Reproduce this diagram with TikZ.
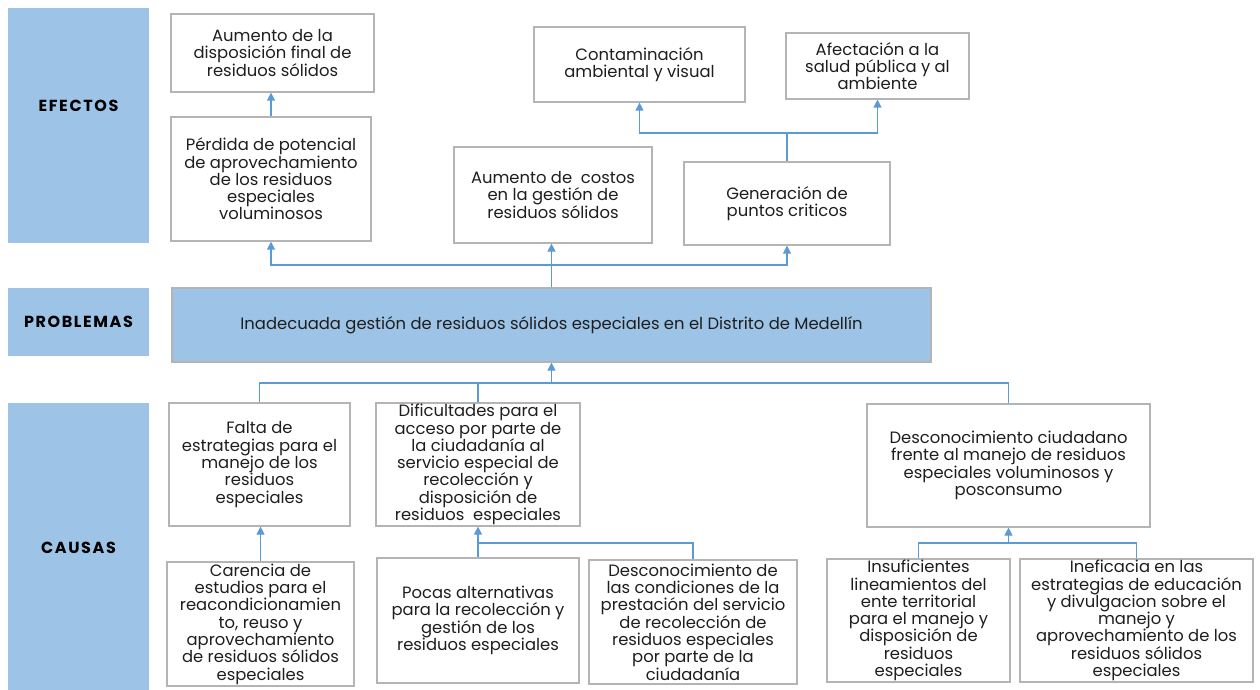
\documentclass[tikz,border=0pt]{standalone}
\usepackage{fontspec}
\setmainfont{Poppins}
\usepackage{tikz}
\usetikzlibrary{positioning}
\usetikzlibrary{arrows.meta}

\definecolor{rowblue}{HTML}{9DC3E6}
\definecolor{linkblue}{HTML}{5B9BD5}
\definecolor{framegray}{HTML}{B4B4B4}
\definecolor{inkgray}{HTML}{1E1E1E}

\begin{document}
\begin{tikzpicture}[x=1pt, y=-1pt,
    cell/.style={draw=framegray, line width=1.2pt, fill=white, align=center, inner sep=0pt, text=inkgray, font=\fontsize{16.4}{17.3}\selectfont},
    rowlabel/.style={fill=rowblue, inner sep=0pt, text=black, font=\fontsize{16}{17}\selectfont\bfseries\addfontfeature{LetterSpace=10}},
    link/.style={draw=linkblue, line width=1.2pt},
    up/.style={link, -{Triangle[width=8pt,length=8pt]}}]

    \useasboundingbox (0,0) rectangle (1260,690);

    % row labels
    \node [rowlabel, minimum width=141pt, minimum height=235pt, label={[rowlabel, fill=none, yshift=20pt]center:EFECTOS}] (efectos) at (78.5,125.5) {};
    \node [rowlabel, minimum width=141pt, minimum height=68pt] (problemas) at (78.5,322) {PROBLEMAS};
    \node [rowlabel, minimum width=141pt, minimum height=289pt] (causas) at (78.5,547.5) {CAUSAS};

    % efectos
    \node [cell, minimum width=203pt, minimum height=78pt] (aumdisp) at (272.5,53) {Aumento de la\\disposición final de\\residuos sólidos};
    \node [cell, minimum width=200pt, minimum height=124pt] (perdida) at (271,179) {Pérdida de potencial\\de aprovechamiento\\de los residuos\\especiales\\voluminosos};
    \node [cell, minimum width=211pt, minimum height=75pt] (contam) at (639.5,64.5) {Contaminación\\ambiental y visual};
    \node [cell, minimum width=183pt, minimum height=66pt] (afecta) at (877.5,66) {Afectación a la\\salud pública y al\\ambiente};
    \node [cell, minimum width=198pt, minimum height=96pt] (costos) at (553,195) {Aumento de \ costos\\en la gestión de\\residuos sólidos};
    \node [cell, minimum width=206pt, minimum height=83pt] (puntos) at (787,203.5) {Generación de\\puntos criticos};

    % problema
    \node [cell, fill=rowblue, minimum width=759pt, minimum height=74pt] (problema) at (551.5,325) {Inadecuada gestión de residuos sólidos especiales en el Distrito de Medellín};

    % causas
    \node [cell, minimum width=181pt, minimum height=123pt] (falta) at (259.5,464.5) {Falta de\\estrategias para el\\manejo de los\\residuos\\especiales};
    \node [cell, minimum width=204pt, minimum height=123pt] (dificul) at (478,464.5) {Dificultades para el\\acceso por parte de\\la ciudadanía al\\servicio especial de\\recolección y\\disposición de\\residuos \ especiales};
    \node [cell, minimum width=283pt, minimum height=123pt] (descciu) at (1008.5,465.5) {Desconocimiento ciudadano\\frente al manejo de residuos\\especiales voluminosos y\\posconsumo};
    \node [cell, minimum width=187pt, minimum height=124pt] (carencia) at (260.5,624) {Carencia de\\estudios para el\\reacondicionamien\\to, reuso y\\aprovechamiento\\de residuos sólidos\\especiales};
    \node [cell, minimum width=202pt, minimum height=125pt] (pocas) at (478,620.5) {Pocas alternativas\\para la recolección y\\gestión de los\\residuos especiales};
    \node [cell, minimum width=208pt, minimum height=124pt] (desccond) at (693,622) {Desconocimiento de\\las condiciones de la\\prestación del servicio\\de recolección de\\residuos especiales\\por parte de la\\ciudadanía};
    \node [cell, minimum width=183pt, minimum height=123pt] (insuf) at (918.5,620.5) {Insuficientes\\lineamientos del\\ente territorial\\para el manejo y\\disposición de\\residuos\\especiales};
    \node [cell, minimum width=233pt, minimum height=123pt] (inefic) at (1136.5,620.5) {Ineficacia en las\\estrategias de educación\\y divulgacion sobre el\\manejo y\\aprovechamiento de los\\residuos sólidos\\especiales};

    % junctions
    \coordinate (jefe) at (puntos.north |- 0,133);
    \coordinate (jpro) at (problema.north |- 0,265);
    \coordinate (jcau) at (problema.south |- 0,383);
    \coordinate (jdif) at (dificul.south |- 0,543);
    \coordinate (jdes) at (descciu.south |- 0,543);

    \draw [up] (perdida.north) -- (perdida.north |- aumdisp.south);
    \draw [link] (puntos.north) -- (jefe);
    \draw [up] (jefe) -| (contam.south);
    \draw [up] (jefe) -| (afecta.south);

    \draw [up] (problema.north) -- (problema.north |- costos.south);
    \draw [up] (jpro) -| (perdida.south);
    \draw [up] (jpro) -| (puntos.south);

    \draw [up] (jcau) -- (problema.south);
    \draw [link] (jcau) -| (falta.north);
    \draw [link] (jcau) -| (dificul.north);
    \draw [link] (jcau) -| (descciu.north);

    \draw [up] (carencia.north) -- (carencia.north |- falta.south);
    \draw [up] (jdif) -- (dificul.south);
    \draw [link] (jdif) -- (jdif |- pocas.north);
    \draw [link] (jdif) -| (desccond.north);
    \draw [up] (jdes) -- (descciu.south);
    \draw [link] (jdes) -| (insuf.north);
    \draw [link] (jdes) -| (inefic.north);

\end{tikzpicture}
\end{document}
